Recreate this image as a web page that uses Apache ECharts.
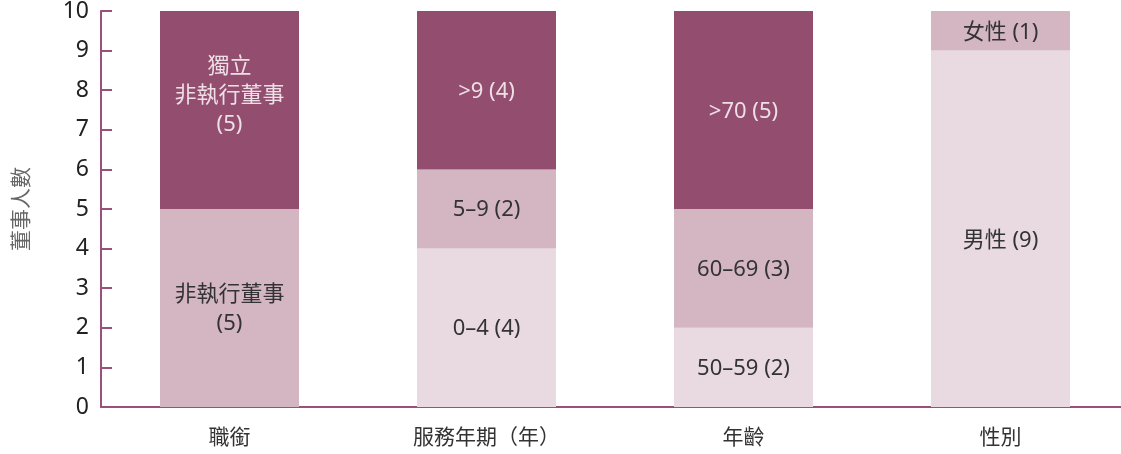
<!DOCTYPE html>
<html><head><meta charset="utf-8">
<script src="https://cdn.jsdelivr.net/npm/echarts@6/dist/echarts.min.js"></script>
<style>html,body{margin:0;padding:0;background:#fff;overflow:hidden}#c{width:1130px;height:454px}</style>
</head><body><div id="c"></div>
<script>
const categories = ['職銜', '服務年期（年）', '年齡', '性別'];
const yTicks = [0,1,2,3,4,5,6,7,8,9,10];
// stacked layers, bottom to top
const layer1Values = [5, 4, 2, 9];
const layer1Labels = ['非執行董事\n(5)', '0–4 (4)', '50–59 (2)', '男性 (9)'];
const layer2Values = [5, 2, 3, 1];
const layer2Labels = ['獨立\n非執行董事\n(5)', '5–9 (2)', '60–69 (3)', '女性 (1)'];
const layer3Values = [0, 4, 5, 0];
const layer3Labels = ['', '>9 (4)', '>70 (5)', ''];
const yAxisName = '董事人數';

// style: shade per cell (0 light, 1 medium, 2 dark) and vertical label nudges
const shades1 = [1, 0, 0, 0];
const shades2 = [2, 1, 1, 1];
const shades3 = [2, 2, 2, 2];
const nudge1 = [1, 1, 1, 12];
const nudge2 = [-14, 1, 1, 2];
const nudge3 = [0, 2, 2, 0];
const fills = ['#e8dae0', '#d4b6c3', '#924d6f'];
const textCols = ['#333333', '#333333', '#eedfe6'];
const FONT = '"Noto Sans", "Noto Sans CJK TC", sans-serif';

function mk(values, labels, shades, nudge) {
  return {
    type: 'bar', stack: 's', barWidth: 139,
    data: values.map((v, i) => ({
      value: v,
      itemStyle: { color: fills[shades[i]] },
      label: { show: v > 0, formatter: labels[i], color: textCols[shades[i]], offset: [0, nudge[i]] }
    })),
    label: { position: 'inside', fontSize: 22, lineHeight: 29, fontFamily: FONT },
    emphasis: { disabled: true }
  };
}

const chart = echarts.init(document.getElementById('c'), null, { renderer: 'canvas' });
chart.setOption({
  animation: false,
  grid: { left: 101, top: 11, width: 1028, height: 396, containLabel: false, outerBoundsMode: 'none' },
  xAxis: {
    type: 'category', data: categories,
    axisLine: { lineStyle: { color: '#9a5079', width: 2 } },
    axisTick: { show: false },
    axisLabel: { color: '#333', fontSize: 21, margin: 21, fontFamily: FONT }
  },
  yAxis: {
    type: 'value', min: 0, max: 10, interval: 1,
    name: yAxisName, nameLocation: 'middle', nameGap: 68, nameRotate: 90,
    nameTextStyle: { color: '#666', fontSize: 21, fontFamily: FONT },
    axisLine: { show: true, lineStyle: { color: '#9a5079', width: 2 } },
    axisTick: { show: true, inside: true, length: 11, lineStyle: { color: '#9a5079', width: 2 } },
    splitLine: { show: false },
    axisLabel: { color: '#222', fontSize: 23, margin: 12, fontFamily: FONT,
      formatter: v => yTicks.includes(v) ? String(v) : '' }
  },
  series: [mk(layer1Values, layer1Labels, shades1, nudge1), mk(layer2Values, layer2Labels, shades2, nudge2), mk(layer3Values, layer3Labels, shades3, nudge3)]
});
</script></body></html>
